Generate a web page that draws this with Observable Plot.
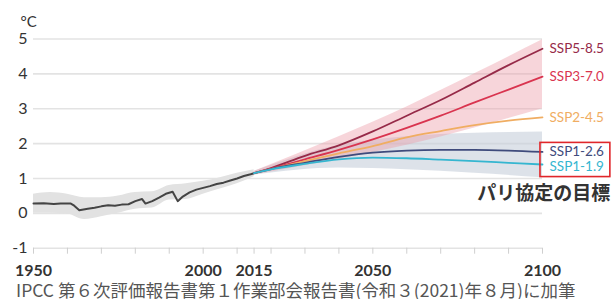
<!DOCTYPE html>
<html><head><meta charset="utf-8">
<script src="https://cdn.jsdelivr.net/npm/d3@7"></script>
<script src="https://cdn.jsdelivr.net/npm/@observablehq/plot@0.6"></script>
<style>
body{margin:0;background:#fff;}
#cap{font-family:"Noto Sans CJK JP";font-size:17.5px;color:#555;margin-left:16px;margin-top:3px;line-height:18px;white-space:nowrap;}
</style></head><body>
<div id="chart"></div>
<div id="cap">IPCC 第６次評価報告書第１作業部会報告書(令和３(2021)年８月)に加筆</div>
<script>
// Historical (1950-2015)
const histYears = [1950,1953,1956,1958,1961,1962,1963.5,1966,1968,1970,1972,1974,1976,1978,1980,1982,1983,1985,1987,1989,1991,1992.5,1994,1996,1998,2000,2002,2004,2006,2008,2010,2012,2014,2015];
const histValues = [0.28,0.29,0.27,0.28,0.28,0.22,0.09,0.13,0.16,0.20,0.23,0.22,0.25,0.26,0.35,0.41,0.28,0.35,0.45,0.56,0.62,0.35,0.48,0.60,0.68,0.73,0.78,0.84,0.88,0.94,1.00,1.07,1.12,1.15];
const histBandYears = [1950,1955,1960,1965,1970,1975,1980,1985,1990,1995,2000,2005,2010,2015];
const histBandHi = [0.55,0.60,0.55,0.45,0.45,0.50,0.60,0.62,0.80,0.85,0.92,1.02,1.15,1.25];
const histBandLo = [0.00,0.00,-0.02,-0.18,-0.10,0.00,0.12,0.15,0.38,0.40,0.55,0.70,0.85,1.05];

// Projections (2015-2100)
const projYears = [2015,2020,2030,2040,2050,2060,2070,2080,2090,2100];
const ssp585 = [1.15,1.30,1.65,1.95,2.35,2.80,3.25,3.75,4.25,4.72];
const ssp370 = [1.15,1.28,1.55,1.82,2.12,2.45,2.80,3.18,3.55,3.92];
const ssp245 = [1.15,1.27,1.50,1.72,1.93,2.18,2.36,2.53,2.66,2.75];
const ssp126 = [1.15,1.27,1.45,1.62,1.74,1.80,1.82,1.82,1.80,1.76];
const ssp119 = [1.15,1.26,1.42,1.55,1.60,1.58,1.54,1.50,1.45,1.40];

const bandYears = [2015,2040,2060,2080,2100];
const redBandHi = [1.20,2.20,3.05,4.00,4.98];
const redBandLo = [1.10,1.55,1.95,2.45,3.00];
const blueBandHi = [1.20,1.95,2.20,2.30,2.33];
const blueBandLo = [1.10,1.30,1.25,1.15,1.02];

const scenarioNames = ["SSP5-8.5","SSP3-7.0","SSP2-4.5","SSP1-2.6","SSP1-1.9"];
const scenarioSeries = [ssp585, ssp370, ssp245, ssp126, ssp119];
const scenarioColors = ["#962a48","#d9344f","#f0ad62","#3f4b7c","#35b6d0"];
const labelY = [4.72, 3.92, 2.75, 1.76, 1.33];

const yTicks = [-1,0,1,2,3,4,5];
const xTicks = [1950,1960,1970,1980,1990,2000,2010,2015,2020,2030,2040,2050,2060,2070,2080,2090,2100];
const xLabeled = [1950,2000,2015,2050,2100];

const targetBox = [{x1: 2099.4, x2: 2120, y1: 1.04, y2: 2.02}];
const targetText = "パリ協定の目標";
const targetPos = [{x: 2120, y: 0.55}];

const hist = histYears.map((x,i)=>({x, y: histValues[i]}));
const histBand = histBandYears.map((x,i)=>({x, hi: histBandHi[i], lo: histBandLo[i]}));
const redBand = bandYears.map((x,i)=>({x, hi: redBandHi[i], lo: redBandLo[i]}));
const blueBand = bandYears.map((x,i)=>({x, hi: blueBandHi[i], lo: blueBandLo[i]}));
const proj = scenarioNames.flatMap((name,k)=>projYears.map((x,i)=>({name, x, y: scenarioSeries[k][i]})));
const ends = scenarioNames.map((name,k)=>({name, x: 2100, y: labelY[k], color: scenarioColors[k]}));

const chart = Plot.plot({
  width: 611, height: 278,
  marginLeft: 33, marginRight: 69, marginTop: 38.5, marginBottom: 30.3,
  x: {domain: [1950, 2100]},
  y: {domain: [-1, 5]},
  color: {domain: scenarioNames, range: scenarioColors},
  style: {fontFamily: "Lato", color: "#333", overflow: "visible"},
  marks: [
    Plot.ruleY(yTicks, {stroke: "#e3e3e3", strokeWidth: 1.6}),
    Plot.axisY({ticks: yTicks, tickSize: 0, tickPadding: 6, fontSize: 16, label: null, tickFormat: d => String(d)}),
    Plot.axisX({ticks: xTicks, tickSize: 6, stroke: "#cfcfcf", tickPadding: 10, fontSize: 16, fontWeight: "bold", label: null, tickFormat: d => xLabeled.includes(d) ? String(d) : ""}),
    Plot.text(["°C"], {frameAnchor: "top-left", dx: -13, dy: -23, fontSize: 15, fill: "#333"}),
    Plot.areaY(histBand, {x: "x", y1: "lo", y2: "hi", fill: "#e2e2e2", curve: "monotone-x"}),
    Plot.line(hist, {x: "x", y: "y", stroke: "#444", strokeWidth: 2}),
    Plot.areaY(blueBand, {x: "x", y1: "lo", y2: "hi", fill: "#c7cedb", fillOpacity: 0.6, curve: "monotone-x"}),
    Plot.areaY(redBand, {x: "x", y1: "lo", y2: "hi", fill: "#eb9aa8", fillOpacity: 0.42, curve: "monotone-x"}),
    Plot.line(proj, {x: "x", y: "y", stroke: "name", z: "name", strokeWidth: 1.8, curve: "monotone-x"}),
    Plot.text(ends, {x: "x", y: "y", text: "name", fill: "color", dx: 7, textAnchor: "start", fontSize: 13.5}),
    Plot.rect(targetBox, {x1: "x1", x2: "x2", y1: "y1", y2: "y2", fill: "none", stroke: "#e0262a", strokeWidth: 1.6, clip: false}),
    Plot.text(targetPos, {x: "x", y: "y", text: () => targetText, textAnchor: "end", fontSize: 19, fontWeight: "bold", fontFamily: "Noto Sans CJK JP", fill: "#333"})
  ]
});
document.getElementById("chart").appendChild(chart);
</script>
</body></html>
